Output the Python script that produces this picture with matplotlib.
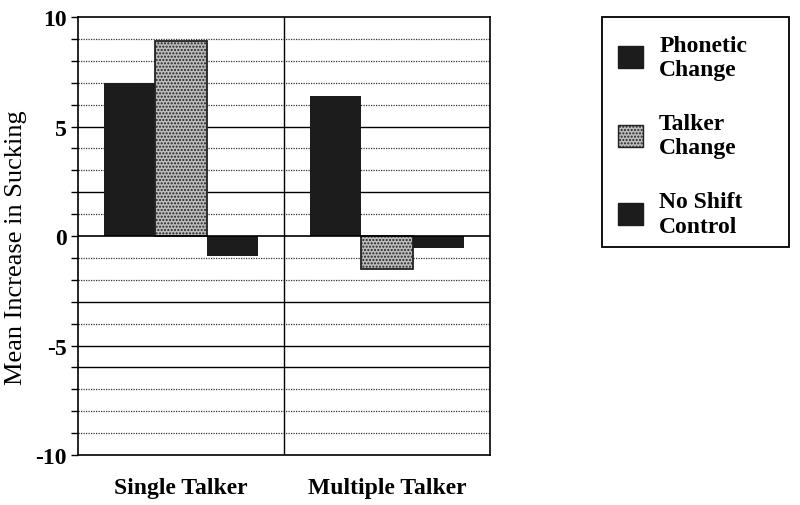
import numpy as np
import matplotlib
matplotlib.use("Agg")
import matplotlib.pyplot as plt
from matplotlib.patches import Patch, Rectangle

# data
groups = ["Single Talker", "Multiple Talker"]
phonetic = [7.0, 6.4]
talker = [8.9, -1.5]
no_shift = [-0.9, -0.55]
series_labels = ["Phonetic\nChange", "Talker\nChange", "No Shift\nControl"]
y_ticks = [-10, -5, 0, 5, 10]
solid_grid = [-6, -5, -3, 2, 5]

plt.rcParams['font.family'] = ['Liberation Serif', 'DejaVu Serif']
plt.rcParams['hatch.color'] = '#555555'

fig = plt.figure(figsize=(8, 5.06), dpi=100)
ax = fig.add_axes([0.0975, 0.0988, 0.515, 0.8656])

dark = '#1c1c1c'
grey = '#bcbcbc'
x = np.arange(len(groups))
w = 0.25

# grid lines first
for v in range(-9, 10):
    if v == 0:
        continue
    if v in solid_grid:
        ax.axhline(v, color='black', lw=1.0, zorder=1)
    else:
        ax.axhline(v, color='#333333', lw=0.9, ls=(0, (1, 1)), zorder=1)
ax.axvline(0.5, color='black', lw=1.0, zorder=1)

ax.bar(x - w, phonetic, w, color=dark, edgecolor=dark, lw=0, zorder=2)
ax.bar(x, talker, w, color=grey, edgecolor='#222222', lw=1.3,
       hatch='.....', zorder=2)
ax.bar(x + w, no_shift, w, color=dark, edgecolor=dark, lw=0, zorder=2)
ax.axhline(0, color='black', lw=1.2, zorder=3)

ax.set_xlim(-0.5, 1.5)
ax.set_ylim(-10, 10)
ax.set_yticks(y_ticks)
ax.set_yticklabels([str(t) for t in y_ticks], fontsize=17, fontweight='bold')
ax.set_yticks(range(-10, 11), minor=True)
ax.tick_params(axis='y', which='both', length=5, width=1, direction='out', pad=3)
ax.set_xticks(x)
ax.set_xticklabels(groups, fontsize=17, fontweight='bold')
ax.tick_params(axis='x', length=0, pad=16)
ax.set_ylabel("Mean Increase in Sucking", fontsize=19)
ax.yaxis.set_label_coords(-0.123, 0.475)
for s in ax.spines.values():
    s.set_linewidth(1.2)

# legend box drawn by hand, entries from fig.legend
fig.patches.append(Rectangle((602 / 800, 1 - 248 / 506), 187 / 800, 230 / 506,
                             transform=fig.transFigure, fill=False,
                             edgecolor='black', lw=1.3))
handles = [Patch(facecolor=dark, edgecolor=dark),
           Patch(facecolor=grey, edgecolor='#222222', hatch='.....'),
           Patch(facecolor=dark, edgecolor=dark)]
leg = fig.legend(handles, series_labels, loc='upper left',
                 bbox_to_anchor=(606 / 800, 1 - 24 / 506),
                 prop={'size': 17, 'weight': 'bold'},
                 frameon=False,
                 handlelength=1.05, handleheight=1.05, handletextpad=0.7,
                 labelspacing=1.4, borderpad=0.5, borderaxespad=0)

fig.savefig("out.png", dpi=100)
